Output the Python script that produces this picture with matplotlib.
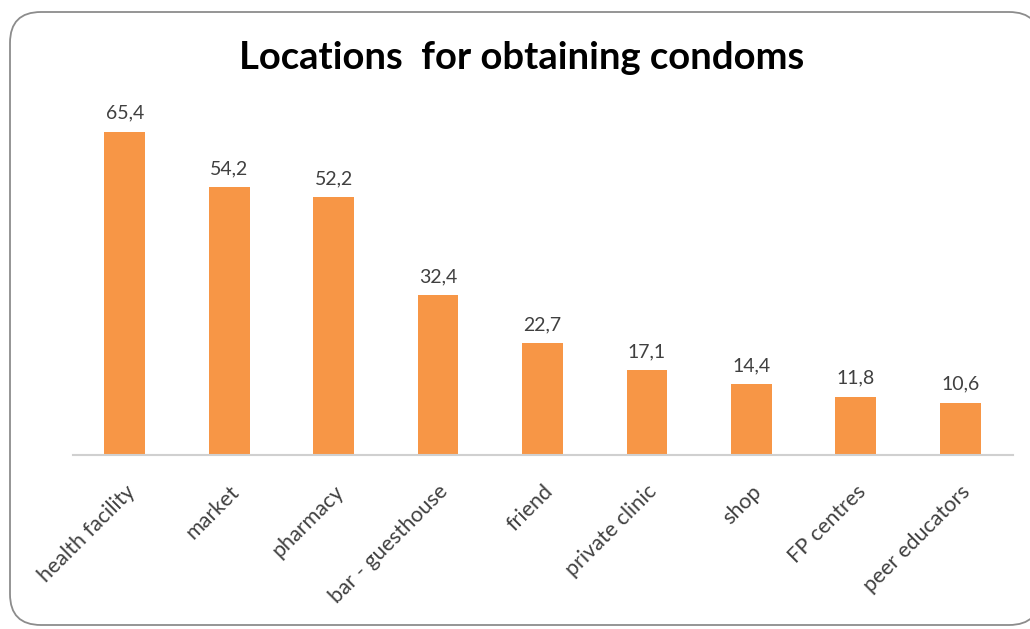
import matplotlib
matplotlib.use("Agg")
import matplotlib.pyplot as plt
from matplotlib.patches import FancyBboxPatch

categories = ["health facility", "market", "pharmacy", "bar - guesthouse", "friend",
              "private clinic", "shop", "FP centres", "peer educators"]
values = [65.4, 54.2, 52.2, 32.4, 22.7, 17.1, 14.4, 11.8, 10.6]
value_labels = ["65,4", "54,2", "52,2", "32,4", "22,7", "17,1", "14,4", "11,8", "10,6"]

plt.rcParams["font.family"] = ["Lato", "DejaVu Sans"]

fig = plt.figure(figsize=(10.3, 6.29), dpi=100)
fig.patch.set_facecolor("white")

# rounded chart-area frame, drawn underneath the plot
frame = FancyBboxPatch((10 / 1030, 4 / 629), 1030 / 1030, 613 / 629,
                       boxstyle="round,pad=0,rounding_size=0.03",
                       transform=fig.transFigure, facecolor="white",
                       edgecolor="#8c8c8c", linewidth=1.3, mutation_aspect=1030 / 629,
                       zorder=-10)
fig.patches.append(frame)

ax = fig.add_axes([72.5 / 1030, 1 - 455 / 629, 940 / 1030, (455 - 109) / 629])
ax.set_zorder(5)
ax.set_facecolor("none")
x = range(len(categories))
bars = ax.bar(x, values, width=0.39, color="#F79646", zorder=2)
for xi, v, lab in zip(x, values, value_labels):
    ax.text(xi, v + 2.0, lab, ha="center", va="bottom", fontsize=14, color="#404040")

ax.set_xlim(-0.5, len(categories) - 0.5)
ax.set_ylim(0, 70)
ax.set_yticks([])
for s in ["left", "right", "top"]:
    ax.spines[s].set_visible(False)
ax.spines["bottom"].set_color("#d0d0d0")
ax.spines["bottom"].set_linewidth(1.5)
ax.set_xticks(list(x))
ax.set_xticklabels(categories, rotation=45, ha="right", rotation_mode="anchor",
                   fontsize=15.5, color="#404040")
ax.tick_params(axis="x", length=0, pad=19)

fig.text(522 / 1030, 1 - 58 / 629, "Locations  for obtaining condoms", ha="center",
         va="center", fontsize=27.5, fontweight="bold", color="black", zorder=6)

fig.savefig("out.png", dpi=100)
